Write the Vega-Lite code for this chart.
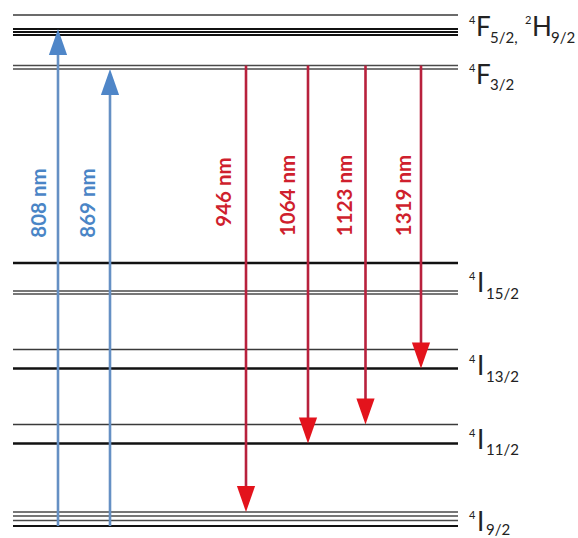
{
  "$schema": "https://vega.github.io/schema/vega-lite/v6.json",
  "width": 578,
  "height": 538,
  "padding": 0,
  "autosize": {"type": "none"},
  "background": "white",
  "config": {"view": {"stroke": null}},
  "datasets": {
    "levels": [
      {"term": "4F5/2, 2H9/2", "x": 13, "x2": 458, "e": 523, "kind": "thin"},
      {"term": "4F5/2, 2H9/2", "x": 13, "x2": 458, "e": 509, "kind": "group"},
      {"term": "4F5/2, 2H9/2", "x": 13, "x2": 458, "e": 506, "kind": "group"},
      {"term": "4F5/2, 2H9/2", "x": 13, "x2": 458, "e": 503, "kind": "group"},
      {"term": "4F3/2", "x": 13, "x2": 458, "e": 472.5, "kind": "double"},
      {"term": "4F3/2", "x": 13, "x2": 458, "e": 469, "kind": "double"},
      {"term": "4I15/2", "x": 13, "x2": 458, "e": 275, "kind": "thick"},
      {"term": "4I15/2", "x": 13, "x2": 458, "e": 247, "kind": "double"},
      {"term": "4I15/2", "x": 13, "x2": 458, "e": 244, "kind": "double"},
      {"term": "4I13/2", "x": 13, "x2": 458, "e": 188.5, "kind": "thin"},
      {"term": "4I13/2", "x": 13, "x2": 458, "e": 169.5, "kind": "thick"},
      {"term": "4I11/2", "x": 13, "x2": 458, "e": 113.5, "kind": "thin"},
      {"term": "4I11/2", "x": 13, "x2": 458, "e": 94.5, "kind": "thick"},
      {"term": "4I9/2", "x": 13, "x2": 458, "e": 26, "kind": "double"},
      {"term": "4I9/2", "x": 13, "x2": 458, "e": 22, "kind": "double"},
      {"term": "4I9/2", "x": 13, "x2": 458, "e": 17.5, "kind": "double"},
      {"term": "4I9/2", "x": 13, "x2": 458, "e": 12, "kind": "group"}
    ],
    "transitions": [
      {"nm": "808 nm", "kind": "pump", "x": 58, "e": 12, "e2": 509, "lx": 40, "le": 335},
      {"nm": "869 nm", "kind": "pump", "x": 110, "e": 12, "e2": 469, "lx": 89, "le": 335},
      {"nm": "946 nm", "kind": "laser", "x": 246, "e": 472.5, "e2": 26, "lx": 225, "le": 346},
      {"nm": "1064 nm", "kind": "laser", "x": 308, "e": 472.5, "e2": 94.5, "lx": 288.5, "le": 342.5},
      {"nm": "1123 nm", "kind": "laser", "x": 365.5, "e": 472.5, "e2": 113.5, "lx": 346, "le": 342.5},
      {"nm": "1319 nm", "kind": "laser", "x": 421, "e": 472.5, "e2": 169.5, "lx": 405, "le": 342.5}
    ],
    "labels": [
      {"part": "sup", "txt": "4", "x": 469, "e": 514},
      {"part": "main", "txt": "F", "x": 476, "e": 502},
      {"part": "sub", "txt": "5/2,", "x": 490, "e": 495},
      {"part": "sup", "txt": "2", "x": 525, "e": 514},
      {"part": "main", "txt": "H", "x": 532, "e": 502},
      {"part": "sub", "txt": "9/2", "x": 551, "e": 495},
      {"part": "sup", "txt": "4", "x": 469, "e": 466},
      {"part": "main", "txt": "F", "x": 476, "e": 454},
      {"part": "sub", "txt": "3/2", "x": 490, "e": 448},
      {"part": "sup", "txt": "4", "x": 469, "e": 258},
      {"part": "main", "txt": "I", "x": 477, "e": 246},
      {"part": "sub", "txt": "15/2", "x": 486, "e": 239},
      {"part": "sup", "txt": "4", "x": 469, "e": 175},
      {"part": "main", "txt": "I", "x": 477, "e": 163},
      {"part": "sub", "txt": "13/2", "x": 486, "e": 156},
      {"part": "sup", "txt": "4", "x": 469, "e": 101},
      {"part": "main", "txt": "I", "x": 477, "e": 89},
      {"part": "sub", "txt": "11/2", "x": 486, "e": 83},
      {"part": "sup", "txt": "4", "x": 469, "e": 19},
      {"part": "main", "txt": "I", "x": 477, "e": 7},
      {"part": "sub", "txt": "9/2", "x": 486, "e": 3}
    ]
  },
  "layer": [
    {
      "data": {"name": "levels"},
      "transform": [{"filter": "datum.kind === 'thin'"}],
      "mark": {"type": "rule", "color": "#3a3a3a", "strokeWidth": 1.4},
      "encoding": {
        "x": {"field": "x", "type": "quantitative", "scale": {"domain": [0, 578], "nice": false, "zero": false}, "axis": null},
        "x2": {"field": "x2"},
        "y": {"field": "e", "type": "quantitative", "scale": {"domain": [0, 538], "nice": false, "zero": false}, "axis": null}
      }
    },
    {
      "data": {"name": "levels"},
      "transform": [{"filter": "datum.kind === 'double'"}],
      "mark": {"type": "rule", "color": "#4a4a4a", "strokeWidth": 1.5},
      "encoding": {
        "x": {"field": "x", "type": "quantitative", "scale": {"domain": [0, 578], "nice": false, "zero": false}, "axis": null},
        "x2": {"field": "x2"},
        "y": {"field": "e", "type": "quantitative", "scale": {"domain": [0, 538], "nice": false, "zero": false}, "axis": null}
      }
    },
    {
      "data": {"name": "levels"},
      "transform": [{"filter": "datum.kind === 'group'"}],
      "mark": {"type": "rule", "color": "#111111", "strokeWidth": 1.9},
      "encoding": {
        "x": {"field": "x", "type": "quantitative", "scale": {"domain": [0, 578], "nice": false, "zero": false}, "axis": null},
        "x2": {"field": "x2"},
        "y": {"field": "e", "type": "quantitative", "scale": {"domain": [0, 538], "nice": false, "zero": false}, "axis": null}
      }
    },
    {
      "data": {"name": "levels"},
      "transform": [{"filter": "datum.kind === 'thick'"}],
      "mark": {"type": "rule", "color": "#111111", "strokeWidth": 2.7},
      "encoding": {
        "x": {"field": "x", "type": "quantitative", "scale": {"domain": [0, 578], "nice": false, "zero": false}, "axis": null},
        "x2": {"field": "x2"},
        "y": {"field": "e", "type": "quantitative", "scale": {"domain": [0, 538], "nice": false, "zero": false}, "axis": null}
      }
    },
    {
      "data": {"name": "transitions"},
      "transform": [{"filter": "datum.kind === 'pump'"}],
      "mark": {"type": "rule", "color": "#6590c4", "strokeWidth": 2.6, "y2Offset": 13},
      "encoding": {
        "x": {"field": "x", "type": "quantitative", "scale": {"domain": [0, 578], "nice": false, "zero": false}, "axis": null},
        "y": {"field": "e", "type": "quantitative", "scale": {"domain": [0, 538], "nice": false, "zero": false}, "axis": null},
        "y2": {"field": "e2"}
      }
    },
    {
      "data": {"name": "transitions"},
      "transform": [{"filter": "datum.kind === 'laser'"}],
      "mark": {"type": "rule", "color": "#b8213d", "strokeWidth": 2.6, "y2Offset": -13},
      "encoding": {
        "x": {"field": "x", "type": "quantitative", "scale": {"domain": [0, 578], "nice": false, "zero": false}, "axis": null},
        "y": {"field": "e", "type": "quantitative", "scale": {"domain": [0, 538], "nice": false, "zero": false}, "axis": null},
        "y2": {"field": "e2"}
      }
    },
    {
      "data": {"name": "transitions"},
      "transform": [{"filter": "datum.kind === 'pump'"}],
      "mark": {"type": "point", "shape": "M-0.7,1L0.7,1L0,-1Z", "size": 676, "filled": true, "color": "#4f86c8", "opacity": 1, "strokeWidth": 0, "yOffset": 13},
      "encoding": {
        "x": {"field": "x", "type": "quantitative", "scale": {"domain": [0, 578], "nice": false, "zero": false}, "axis": null},
        "y": {"field": "e2", "type": "quantitative", "scale": {"domain": [0, 538], "nice": false, "zero": false}, "axis": null}
      }
    },
    {
      "data": {"name": "transitions"},
      "transform": [{"filter": "datum.kind === 'laser'"}],
      "mark": {"type": "point", "shape": "M-0.7,-1L0.7,-1L0,1Z", "size": 676, "filled": true, "color": "#e3131c", "opacity": 1, "strokeWidth": 0, "yOffset": -13},
      "encoding": {
        "x": {"field": "x", "type": "quantitative", "scale": {"domain": [0, 578], "nice": false, "zero": false}, "axis": null},
        "y": {"field": "e2", "type": "quantitative", "scale": {"domain": [0, 538], "nice": false, "zero": false}, "axis": null}
      }
    },
    {
      "data": {"name": "transitions"},
      "transform": [{"filter": "datum.kind === 'pump'"}],
      "mark": {"type": "text", "angle": 270, "font": "Lato", "fontWeight": "bold", "fontSize": 20.5, "color": "#4a85c6", "align": "center", "baseline": "middle"},
      "encoding": {
        "x": {"field": "lx", "type": "quantitative", "scale": {"domain": [0, 578], "nice": false, "zero": false}, "axis": null},
        "y": {"field": "le", "type": "quantitative", "scale": {"domain": [0, 538], "nice": false, "zero": false}, "axis": null},
        "text": {"field": "nm"}
      }
    },
    {
      "data": {"name": "transitions"},
      "transform": [{"filter": "datum.kind === 'laser'"}],
      "mark": {"type": "text", "angle": 270, "font": "Lato", "fontWeight": "bold", "fontSize": 20.5, "color": "#cf1f2e", "align": "center", "baseline": "middle"},
      "encoding": {
        "x": {"field": "lx", "type": "quantitative", "scale": {"domain": [0, 578], "nice": false, "zero": false}, "axis": null},
        "y": {"field": "le", "type": "quantitative", "scale": {"domain": [0, 538], "nice": false, "zero": false}, "axis": null},
        "text": {"field": "nm"}
      }
    },
    {
      "data": {"name": "labels"},
      "transform": [{"filter": "datum.part === 'sup'"}],
      "mark": {"type": "text", "font": "Lato", "fontSize": 11, "color": "#222222", "align": "left", "baseline": "alphabetic"},
      "encoding": {
        "x": {"field": "x", "type": "quantitative", "scale": {"domain": [0, 578], "nice": false, "zero": false}, "axis": null},
        "y": {"field": "e", "type": "quantitative", "scale": {"domain": [0, 538], "nice": false, "zero": false}, "axis": null},
        "text": {"field": "txt"}
      }
    },
    {
      "data": {"name": "labels"},
      "transform": [{"filter": "datum.part === 'main'"}],
      "mark": {"type": "text", "font": "Lato", "fontSize": 26, "color": "#222222", "align": "left", "baseline": "alphabetic"},
      "encoding": {
        "x": {"field": "x", "type": "quantitative", "scale": {"domain": [0, 578], "nice": false, "zero": false}, "axis": null},
        "y": {"field": "e", "type": "quantitative", "scale": {"domain": [0, 538], "nice": false, "zero": false}, "axis": null},
        "text": {"field": "txt"}
      }
    },
    {
      "data": {"name": "labels"},
      "transform": [{"filter": "datum.part === 'sub'"}],
      "mark": {"type": "text", "font": "Lato", "fontSize": 15, "color": "#222222", "align": "left", "baseline": "alphabetic"},
      "encoding": {
        "x": {"field": "x", "type": "quantitative", "scale": {"domain": [0, 578], "nice": false, "zero": false}, "axis": null},
        "y": {"field": "e", "type": "quantitative", "scale": {"domain": [0, 538], "nice": false, "zero": false}, "axis": null},
        "text": {"field": "txt"}
      }
    }
  ]
}
